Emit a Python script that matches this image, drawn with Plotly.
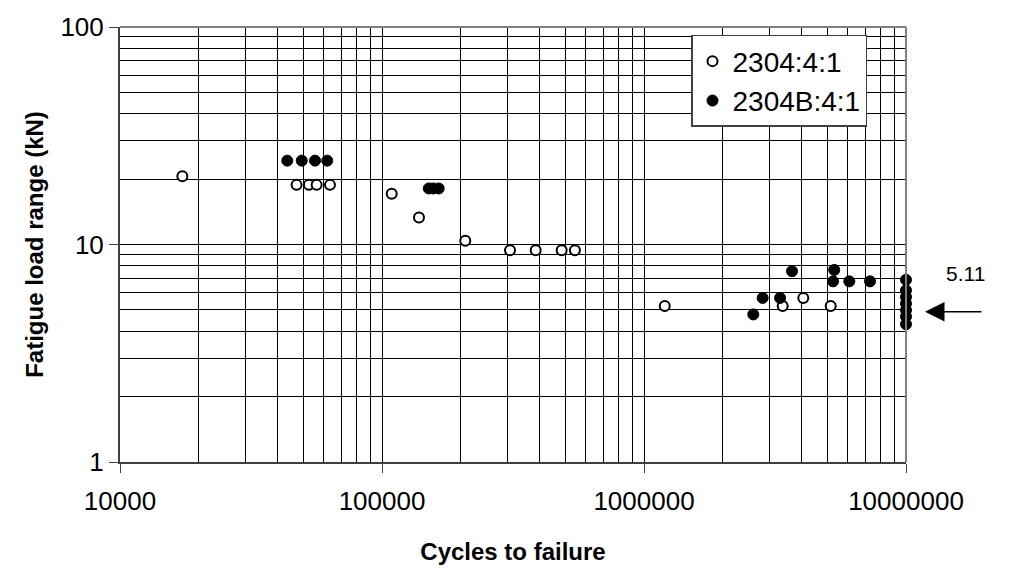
import math
import plotly.graph_objects as go

# Series 2304:4:1 (open markers)
open_cycles = [17300, 47200, 52600, 56300, 63300, 108900, 138400, 207900,
               308000, 386000, 485000, 545000, 1200000, 3383000, 4055000, 5160000]
open_load = [20.6, 18.8, 18.8, 18.8, 18.8, 17.1, 13.3, 10.4,
             9.42, 9.42, 9.42, 9.42, 5.21, 5.21, 5.68, 5.21]

# Series 2304B:4:1 (filled markers)
filled_cycles = [43500, 49400, 55500, 61800, 150800, 157000, 164600,
                 2613000, 2837000, 3306000, 3673000, 5322000, 5270000, 6076000, 7290000,
                 10000000, 10000000, 10000000, 10000000, 10000000, 10000000, 10000000]
filled_load = [24.3, 24.3, 24.3, 24.3, 18.1, 18.1, 18.1,
               4.77, 5.68, 5.68, 7.54, 7.64, 6.77, 6.77, 6.77,
               6.88, 6.16, 5.74, 5.35, 4.99, 4.66, 4.30]

series_names = ["2304:4:1", "2304B:4:1"]
x_tickvals = [10000, 100000, 1000000, 10000000]
x_ticktext = ["10000", "100000", "1000000", "10000000"]
y_tickvals = [1, 10, 100]
y_ticktext = ["1", "10", "100"]
arrow_value = 4.91
arrow_label = "5.11"

FONT = "Liberation Sans, Arial, sans-serif"

fig = go.Figure()
fig.add_trace(go.Scatter(
    x=open_cycles, y=open_load, mode="markers", name=series_names[0],
    legendgroup="a", cliponaxis=False,
    marker=dict(symbol="circle", size=10, color="white", line=dict(color="black", width=2)),
))
fig.add_trace(go.Scatter(
    x=filled_cycles, y=filled_load, mode="markers", name=series_names[1],
    legendgroup="b", cliponaxis=False,
    marker=dict(symbol="circle", size=11, color="black", line=dict(color="black", width=1)),
))

grid = dict(showgrid=True, gridcolor="black", gridwidth=1)

fig.update_xaxes(
    type="log", range=[4, 7],
    tickmode="array", tickvals=x_tickvals, ticktext=x_ticktext,
    ticks="outside", ticklen=9, tickcolor="#404040", tickwidth=1,
    ticklabelstandoff=6,
    showline=True, linecolor="#404040", linewidth=2,
    minor=dict(dtick="D1", showgrid=True, gridcolor="black", gridwidth=1, ticks=""),
    tickfont=dict(family=FONT, size=26, color="black"),
    title=dict(text="<b>Cycles to failure</b>", font=dict(family=FONT, size=24, color="black"), standoff=28),
    zeroline=False, **grid,
)
fig.update_yaxes(
    type="log", range=[0, 2],
    tickmode="array", tickvals=y_tickvals, ticktext=y_ticktext,
    ticks="outside", ticklen=9, tickcolor="#404040", tickwidth=1,
    showline=True, linecolor="#404040", linewidth=2,
    minor=dict(dtick="D1", showgrid=True, gridcolor="black", gridwidth=1, ticks=""),
    tickfont=dict(family=FONT, size=26, color="black"),
    title=dict(text="<b>Fatigue load range (kN)</b>", font=dict(family=FONT, size=24, color="black"), standoff=10),
    zeroline=False, **grid,
)

# gray frame on top and right
fig.add_shape(type="line", xref="paper", yref="paper", x0=0, x1=1, y0=1, y1=1,
              line=dict(color="#808080", width=2))
fig.add_shape(type="line", xref="paper", yref="paper", x0=1, x1=1, y0=0, y1=1,
              line=dict(color="#808080", width=2))

# arrow and label
fig.add_annotation(
    xref="paper", yref="y", x=(925 - 120) / 786, y=math.log10(arrow_value),
    ax=58, ay=0, axref="pixel", ayref="pixel", text="", showarrow=True,
    arrowhead=2, arrowsize=2.6, arrowwidth=1.5, arrowcolor="black",
)
fig.add_annotation(
    xref="paper", yref="paper", x=(966 - 120) / 786, y=(462 - 272) / 439,
    text=arrow_label, showarrow=False, xanchor="center", yanchor="middle",
    font=dict(family=FONT, size=21, color="black"),
)

fig.update_layout(
    width=1014, height=575,
    margin=dict(l=120, r=108, t=23, b=113),
    paper_bgcolor="white", plot_bgcolor="white",
    showlegend=True,
    legend=dict(
        x=(691 - 120) / 786, y=(462 - 31) / 439, xanchor="left", yanchor="top",
        bgcolor="white", bordercolor="#404040", borderwidth=1.5,
        font=dict(family=FONT, size=28, color="black"),
        traceorder="grouped", tracegroupgap=0,
        itemwidth=30,
    ),
)

fig.write_html("out.html")
